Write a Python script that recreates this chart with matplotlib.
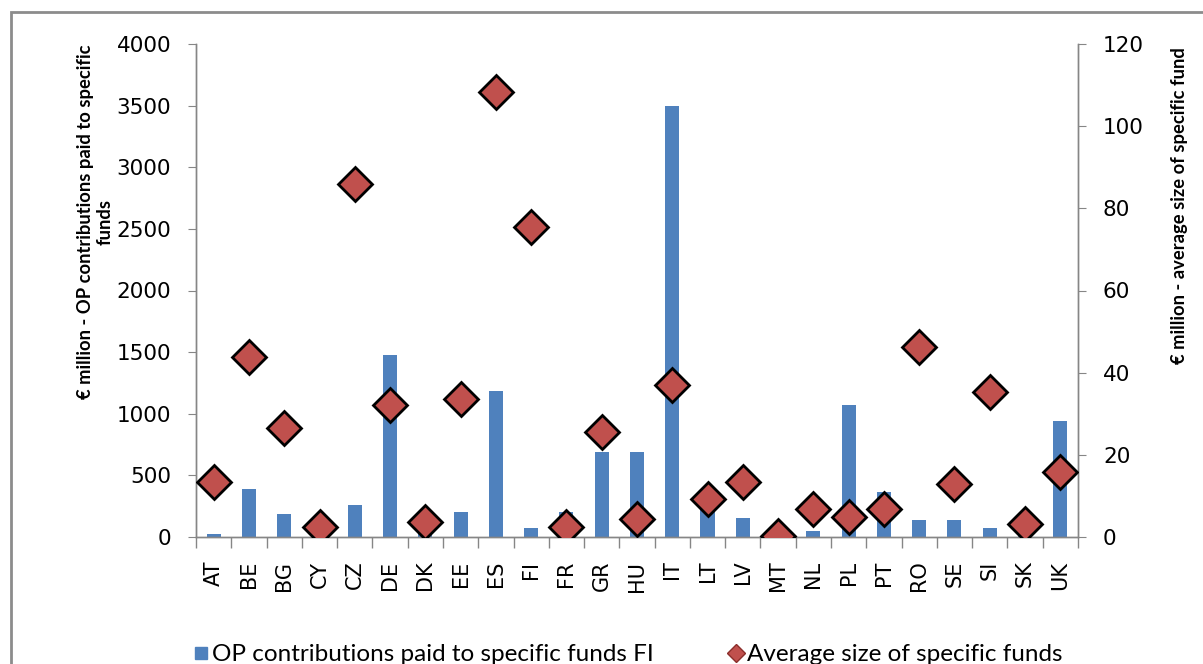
import matplotlib
matplotlib.use("Agg")
import matplotlib.pyplot as plt
from matplotlib.lines import Line2D
from matplotlib.patches import Rectangle
import numpy as np

tari = ["AT", "BE", "BG", "CY", "CZ", "DE", "DK", "EE", "ES", "FI", "FR", "GR", "HU",
        "IT", "LT", "LV", "MT", "NL", "PL", "PT", "RO", "SE", "SI", "SK", "UK"]
contributii_op = [25, 390, 187, 10, 260, 1475, 30, 200, 1185, 73, 200, 687, 687,
                  3495, 300, 157, 5, 51, 1068, 365, 135, 135, 73, 8, 944]
marime_medie = [13.4, 43.8, 26.5, 2.5, 85.9, 32.2, 3.7, 33.6, 108.3, 75.5, 2.5, 25.6, 4.4,
                37.0, 9.2, 13.4, 0.3, 6.9, 4.9, 6.9, 46.2, 12.9, 35.3, 3.2, 15.9]

albastru = "#4F81BD"
rosu = "#C0504D"
gri = "#868686"

fig = plt.figure(figsize=(12.03, 6.64), dpi=100)
ax = fig.add_axes([0.163, 0.1913, 0.733, 0.7424])
ax2 = ax.twinx()

x = np.arange(len(tari))
ax.bar(x, contributii_op, width=0.4, color=albastru, zorder=2)
ax2.plot(x, marime_medie, linestyle="none", marker="D", markersize=17,
         markerfacecolor=rosu, markeredgecolor="black", markeredgewidth=2, zorder=3)

ax.set_xlim(-0.5, len(tari) - 0.5)
ax.set_ylim(0, 4000)
ax2.set_ylim(0, 120)
ax.set_yticks(range(0, 4001, 500))
ax2.set_yticks(range(0, 121, 20))

ax.set_xticks(x)
ax.set_xticklabels(tari, rotation=90, fontsize=15)
ax.set_xticks(np.arange(-0.5, len(tari), 1), minor=True)
ax.tick_params(axis="x", which="major", length=0, pad=17)
ax.tick_params(axis="x", which="minor", length=8, color=gri, width=1)
ax.tick_params(axis="y", labelsize=15.5, length=6, color=gri, pad=12)
ax2.tick_params(axis="y", labelsize=15.5, length=6, color=gri, pad=12)

for a in (ax, ax2):
    a.spines["top"].set_visible(False)
    for s in ("left", "right", "bottom"):
        a.spines[s].set_color(gri)
        a.spines[s].set_linewidth(1)

ax.set_ylabel("€ million - OP contributions paid to specific\nfunds",
              family="Lato", fontweight="bold", fontsize=13.2, linespacing=1.2)
ax2.set_ylabel("€ million - average size of specific fund",
               family="Lato", fontweight="bold", fontsize=13.2)
ax.yaxis.set_label_coords(-0.093, 0.639)
ax2.yaxis.set_label_coords(1.106, 0.673)

# chenarul graficului
fig.patches.append(Rectangle((11 / 1203, -0.1), 1.1, 1 - 12 / 664 + 0.1,
                             transform=fig.transFigure, fill=False,
                             edgecolor="#8C8C8C", linewidth=2, zorder=0))

handles = [
    Line2D([], [], linestyle="none", marker="s", markersize=8, color=albastru),
    Line2D([], [], linestyle="none", marker="D", markersize=9,
           markerfacecolor=rosu, markeredgecolor="#8B2E2B", markeredgewidth=1),
]
fig.legend(handles, ["OP contributions paid to specific funds FI", "Average size of specific funds"],
           loc="center", bbox_to_anchor=(0.521, 0.014), ncol=2, frameon=False,
           prop={"family": "Lato", "size": 17.5}, handletextpad=0.05, columnspacing=2.97,
           handlelength=0.8)

fig.savefig("out.png", dpi=100)
